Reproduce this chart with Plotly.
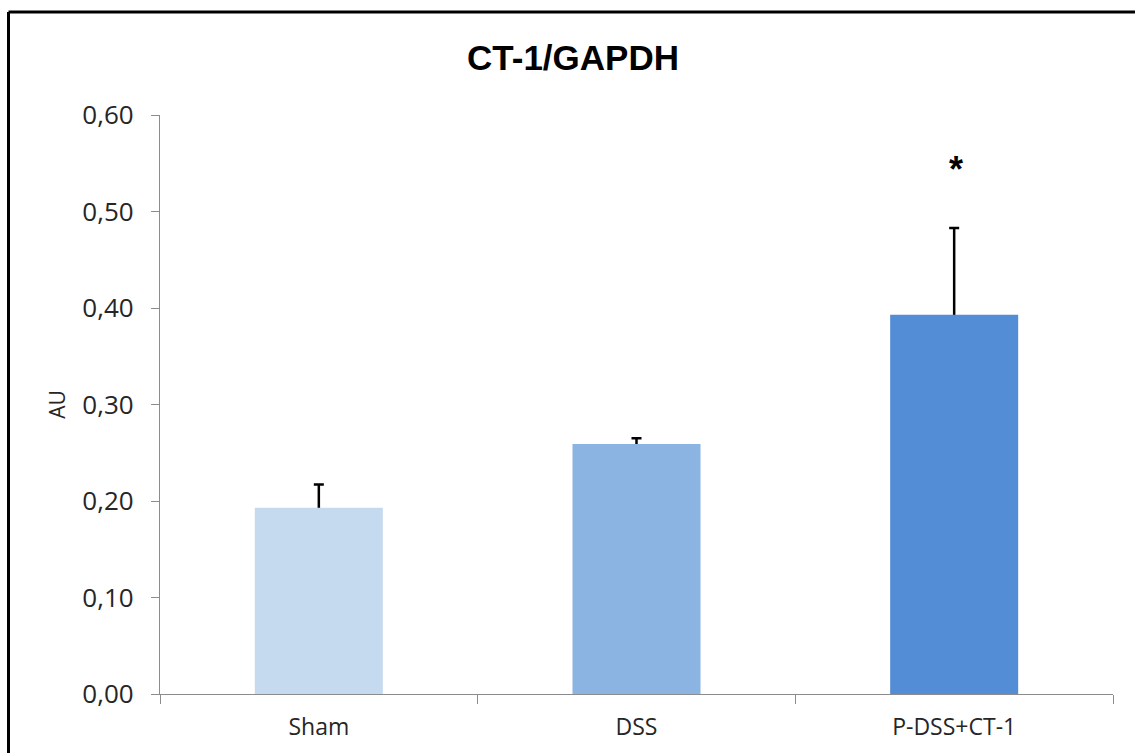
import plotly.graph_objects as go

# CT-1 expression normalised to GAPDH (arbitrary units)
groups = ["Sham", "DSS", "P-DSS+CT-1"]
means = [0.193, 0.259, 0.393]
sem = [0.024, 0.006, 0.090]
significance = ["", "", "*"]
bar_colors = ["#C5DAEF", "#8BB4E2", "#528DD5"]

y_ticks = [0.0, 0.1, 0.2, 0.3, 0.4, 0.5, 0.6]
y_tick_text = ["0,00", "0,10", "0,20", "0,30", "0,40", "0,50", "0,60"]

W, H = 1135, 753
L, R, T, B = 160, 22, 115, 59
plot_w = W - L - R
plot_h = H - T - B

fig = go.Figure()

# error bars sit behind the bars, so only the upper whisker shows
fig.add_trace(go.Bar(
    x=groups, y=means,
    marker=dict(color="rgba(0,0,0,0)", line=dict(width=0)),
    error_y=dict(type="data", array=sem, color="black", thickness=2.5, width=5),
    showlegend=False, hoverinfo="skip",
))
fig.add_trace(go.Bar(
    x=groups, y=means,
    marker=dict(color=bar_colors, line=dict(width=0)),
    showlegend=False,
))

# significance markers above the error bars
for g, m, e, s in zip(groups, means, sem, significance):
    if s:
        fig.add_annotation(
            x=g, y=m + e, yshift=58, xshift=2, text="<b>" + s + "</b>", showarrow=False,
            font=dict(family="Liberation Sans", size=36, color="black"),
        )

# outer frame (top and left edges)
def px_x(px):
    return (px - L) / plot_w

def px_y(py):
    return (H - B - py) / plot_h

frame = dict(color="black", width=3)
fig.add_shape(type="line", xref="paper", yref="paper",
              x0=px_x(8.5), x1=px_x(1145), y0=px_y(12), y1=px_y(12), line=frame)
fig.add_shape(type="line", xref="paper", yref="paper",
              x0=px_x(8.5), x1=px_x(8.5), y0=px_y(12), y1=px_y(770), line=frame)

axis_gray = "#8C8C8C"
text_color = "#262626"

fig.update_layout(
    width=W, height=H,
    margin=dict(l=L, r=R, t=T, b=B),
    paper_bgcolor="white", plot_bgcolor="white",
    barmode="overlay",
    bargap=0.597,
    title=dict(
        text="<b>CT-1/GAPDH</b>",
        x=573 / W, xref="container", xanchor="center",
        y=1 - 58 / H, yref="container", yanchor="middle",
        font=dict(family="Liberation Sans", size=35, color="black"),
    ),
    xaxis=dict(
        range=[-0.5, 2.5],
        showline=True, linecolor=axis_gray, linewidth=1.3,
        ticks="outside", tickson="boundaries", ticklen=9,
        tickcolor=axis_gray, tickwidth=1.3,
        showgrid=False, zeroline=False,
        ticklabelstandoff=12,
        tickfont=dict(family="Open Sans", size=23, color=text_color),
    ),
    yaxis=dict(
        range=[0, 0.6],
        tickvals=y_ticks, ticktext=y_tick_text,
        showline=True, linecolor=axis_gray, linewidth=1.3,
        ticks="outside", ticklen=8, tickcolor=axis_gray, tickwidth=1.3,
        showgrid=False, zeroline=False,
        ticklabelstandoff=12,
        tickfont=dict(family="Open Sans", size=26, color=text_color),
        title=dict(text="AU", font=dict(family="Open Sans", size=21, color=text_color),
                   standoff=10),
    ),
)

fig.write_html("out.html")
